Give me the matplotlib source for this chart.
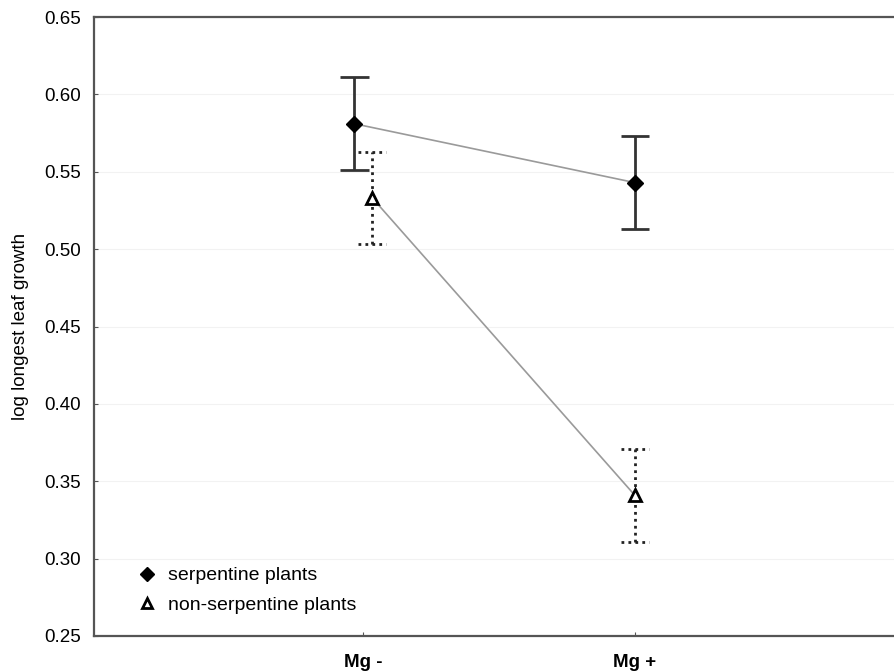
import matplotlib
matplotlib.use("Agg")
import matplotlib.pyplot as plt

categories = ["Mg -", "Mg +"]
serp_pos = [0.967, 2.0]
serp_mean = [0.581, 0.543]
serp_err = [0.030, 0.030]
non_pos = [1.033, 2.0]
non_mean = [0.533, 0.341]
non_err = [0.030, 0.030]
yticks = [0.25, 0.30, 0.35, 0.40, 0.45, 0.50, 0.55, 0.60, 0.65]

plt.rcParams['font.family'] = ['Liberation Sans', 'DejaVu Sans']
fig = plt.figure(figsize=(8.94, 6.71), dpi=100)
ax = fig.add_axes([94/894, 1-636/671, 805/894, 619/671])

for y in yticks:
    ax.axhline(y, color='#f2f2f2', lw=0.8, zorder=0)

ax.plot(serp_pos, serp_mean, color='#9a9a9a', lw=1.2, zorder=1)
ax.plot(non_pos, non_mean, color='#9a9a9a', lw=1.2, zorder=1)

cap = 0.052
dots = (0, (1, 1.5))
for x, m, e in zip(serp_pos, serp_mean, serp_err):
    ax.vlines(x, m - e, m + e, color='#333333', lw=2, zorder=2)
    ax.hlines([m - e, m + e], x - cap, x + cap, color='#333333', lw=2, zorder=2)
for x, m, e in zip(non_pos, non_mean, non_err):
    ax.vlines(x, m - e, m + e, color='#222222', lw=2, linestyles=[dots], zorder=2)
    ax.hlines([m - e, m + e], x - cap, x + cap, color='#222222', lw=2,
              linestyles=[dots], zorder=2)

ax.plot(serp_pos, serp_mean, 'D', color='black', ms=8, ls='none', zorder=3,
        label='serpentine plants')
ax.plot(non_pos, non_mean, '^', mfc='white', mec='black', mew=2, ms=9, ls='none',
        zorder=3, label='non-serpentine plants')

ax.set_xlim(0.007, 2.974)
ax.set_ylim(0.25, 0.65)
ax.set_yticks(yticks)
ax.set_yticklabels([f"{v:.2f}" for v in yticks], fontsize=13.5)
ax.set_xticks([1, 2])
ax.set_xticklabels(categories, fontsize=13.5, fontweight='bold')
ax.tick_params(axis='y', direction='in', length=3, pad=9.5, color='#555555')
ax.tick_params(axis='x', direction='in', length=3, pad=13, color='#555555')
ax.set_ylabel("log longest leaf growth", fontsize=13.5, labelpad=11)

for s in ax.spines.values():
    s.set_color('#555555')
    s.set_linewidth(1.6)

leg = ax.legend(loc='lower left', bbox_to_anchor=(0.043, 0.0235), borderaxespad=0,
                frameon=False, fontsize=14, handletextpad=0.55, labelspacing=0.6,
                handlelength=1.1)
for h in leg.legend_handles:
    h.set_markersize(7)

fig.savefig("out.png", dpi=100)
